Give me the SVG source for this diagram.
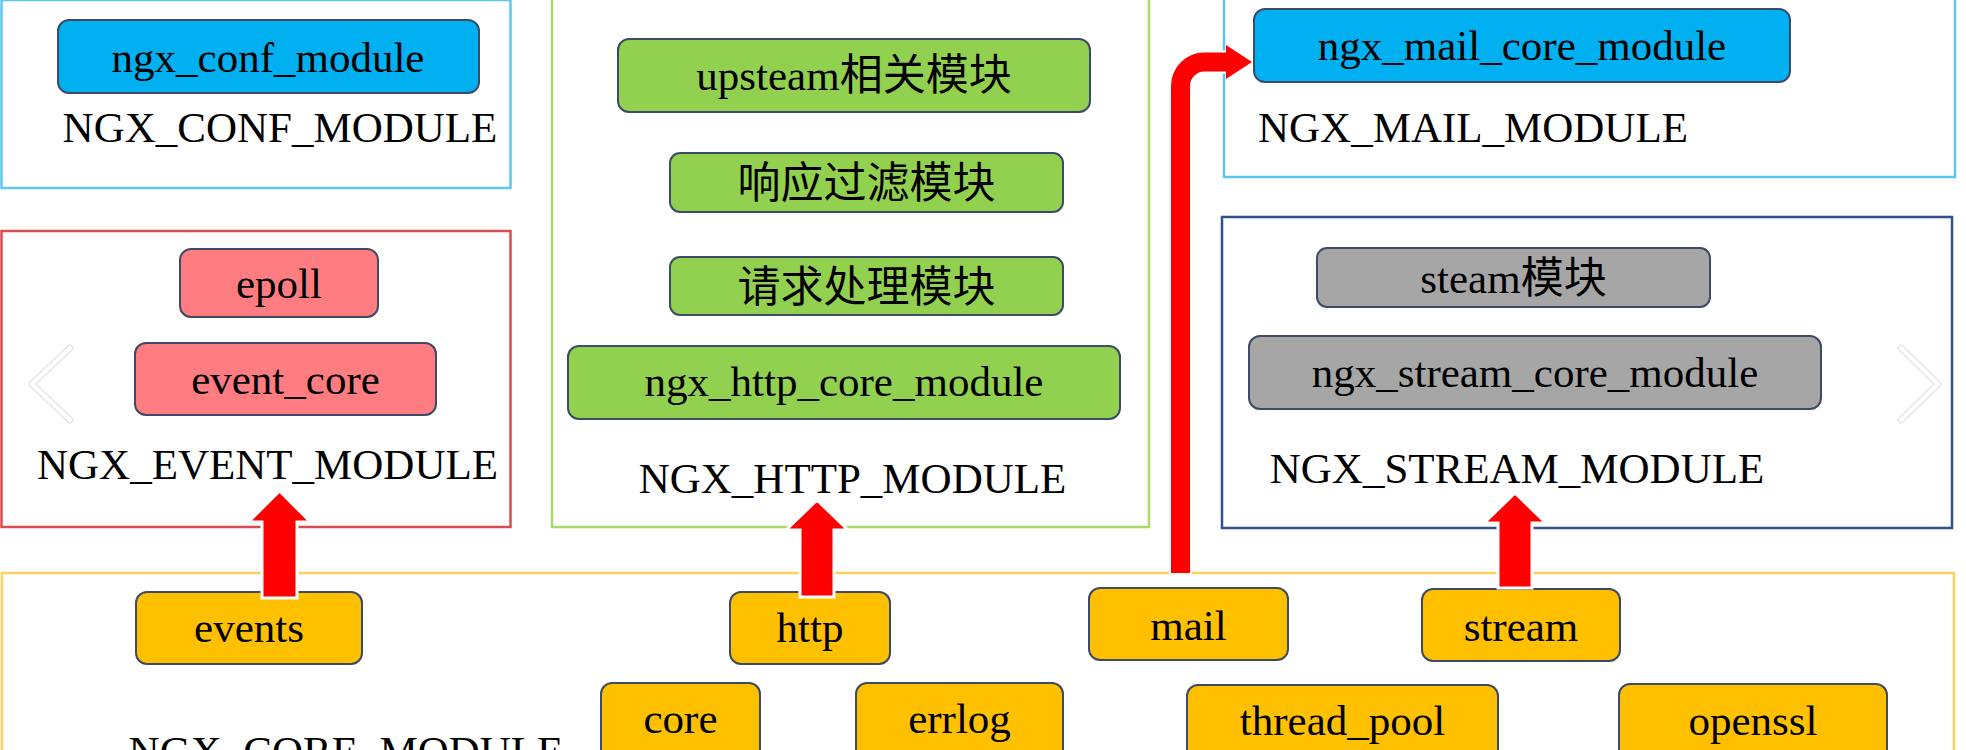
<svg xmlns="http://www.w3.org/2000/svg" width="1966" height="750" viewBox="0 0 1966 750">
<style>
.t{font-family:"Liberation Serif","Noto Sans CJK SC",serif;font-size:43px;fill:#000;text-anchor:middle}
.box{fill:none;stroke-width:2.5}
.nd{stroke:#3D4B66;stroke-width:2}
.blue{fill:#00B0F0}.green{fill:#92D050}.pink{fill:#FF7C80}.grey{fill:#A6A6A6}.yel{fill:#FFC000}
.arr{fill:#FF0000;stroke:#FFFFFF;stroke-width:3;stroke-linejoin:miter}
.chev{fill:none;stroke-linecap:round;stroke-linejoin:round}
</style>
<rect width="1966" height="750" fill="#FFFFFF"/>

<g id="conf-module">
<rect class="box" x="1.5" y="0" width="509" height="188" stroke="#5CC8F2"/>
<g id="ngx_conf_module"><rect class="nd blue" x="58" y="20" width="421" height="73" rx="11"/><text class="t" x="268" y="72">ngx_conf_module</text></g>
<text class="t" x="280" y="142">NGX_CONF_MODULE</text>
</g>

<g id="event-module">
<rect class="box" x="1.5" y="231" width="509" height="296" stroke="#DA4B4E"/>
<g id="epoll"><rect class="nd pink" x="180" y="249" width="198" height="68" rx="11"/><text class="t" x="279" y="298">epoll</text></g>
<g id="event_core"><rect class="nd pink" x="135" y="343" width="301" height="72" rx="11"/><text class="t" x="285.5" y="394">event_core</text></g>
<text class="t" x="267.5" y="479">NGX_EVENT_MODULE</text>
</g>

<g id="http-module">
<rect class="box" x="552" y="-5" width="597" height="532" stroke="#A6D96A"/>
<g id="upsteam"><rect class="nd green" x="618" y="39" width="472" height="73" rx="11"/><text class="t" x="854" y="90">upsteam相关模块</text></g>
<g id="response-filter"><rect class="nd green" x="670" y="153" width="393" height="59" rx="10"/><text class="t" x="866.5" y="198">响应过滤模块</text></g>
<g id="request-handler"><rect class="nd green" x="670" y="257" width="393" height="58" rx="10"/><text class="t" x="866.5" y="302">请求处理模块</text></g>
<g id="ngx_http_core_module"><rect class="nd green" x="568" y="346" width="552" height="73" rx="11"/><text class="t" x="844" y="396">ngx_http_core_module</text></g>
<text class="t" x="852.5" y="493">NGX_HTTP_MODULE</text>
</g>

<g id="mail-module">
<rect class="box" x="1224" y="-5" width="731" height="182" stroke="#5CC8F2"/>
<g id="ngx_mail_core_module"><rect class="nd blue" x="1254" y="9" width="536" height="73" rx="11"/><text class="t" x="1522" y="60">ngx_mail_core_module</text></g>
<text class="t" x="1258" y="142" style="text-anchor:start">NGX_MAIL_MODULE</text>
</g>

<g id="stream-module">
<rect class="box" x="1222" y="217" width="730" height="311" stroke="#33508F"/>
<g id="steam"><rect class="nd grey" x="1317" y="248" width="393" height="59" rx="10"/><text class="t" x="1513.5" y="293">steam模块</text></g>
<g id="ngx_stream_core_module"><rect class="nd grey" x="1249" y="336" width="572" height="73" rx="11"/><text class="t" x="1535" y="387">ngx_stream_core_module</text></g>
<text class="t" x="1517" y="483">NGX_STREAM_MODULE</text>
</g>

<g id="core-module">
<rect class="box" x="2" y="573" width="1952" height="200" stroke="#FFD15C"/>
<text class="t" x="346" y="766">NGX_CORE_MODULE</text>
<g id="events"><rect class="nd yel" x="136" y="592" width="226" height="72" rx="11"/><text class="t" x="249" y="642">events</text></g>
<g id="http"><rect class="nd yel" x="730" y="592" width="160" height="72" rx="11"/><text class="t" x="810" y="642">http</text></g>
<g id="mail"><rect class="nd yel" x="1089" y="588" width="199" height="72" rx="11"/><text class="t" x="1188.5" y="640">mail</text></g>
<g id="stream"><rect class="nd yel" x="1422" y="589" width="198" height="72" rx="11"/><text class="t" x="1521" y="641">stream</text></g>
<g id="core"><rect class="nd yel" x="601" y="683" width="159" height="90" rx="11"/><text class="t" x="680.5" y="733">core</text></g>
<g id="errlog"><rect class="nd yel" x="856" y="683" width="207" height="90" rx="11"/><text class="t" x="959.5" y="733">errlog</text></g>
<g id="thread_pool"><rect class="nd yel" x="1187" y="685" width="311" height="90" rx="11"/><text class="t" x="1342.5" y="735">thread_pool</text></g>
<g id="openssl"><rect class="nd yel" x="1619" y="684" width="268" height="90" rx="11"/><text class="t" x="1753" y="735">openssl</text></g>
</g>

<g id="connectors">
<polygon class="arr" points="279.5,491 310.5,522 297,522 297,598 262,598 262,522 248.5,522"/>
<polygon class="arr" points="817,500 848,530 834,530 834,597 800,597 800,530 786,530"/>
<polygon class="arr" points="1515,493 1546,523 1532,523 1532,588 1498,588 1498,523 1484,523"/>
<path d="M1180.5 574 V86 A24 24 0 0 1 1204.5 62 H1228" fill="none" stroke="#FFFFFF" stroke-width="23"/>
<path d="M1180.5 573 V86 A24 24 0 0 1 1204.5 62 H1228" fill="none" stroke="#FF0000" stroke-width="19"/>
<polygon points="1226,45 1252,62 1226,79" fill="#FF0000"/>
</g>

<g id="carousel-chevrons">
<polyline class="chev" points="70,348 32,384 70,420" stroke="#E6E6E6" stroke-width="7"/>
<polyline class="chev" points="70,348 32,384 70,420" stroke="#FFFFFF" stroke-width="4"/>
<polyline class="chev" points="1901,348 1938,384 1901,420" stroke="#E6E6E6" stroke-width="7"/>
<polyline class="chev" points="1901,348 1938,384 1901,420" stroke="#FFFFFF" stroke-width="4"/>
</g>
</svg>
